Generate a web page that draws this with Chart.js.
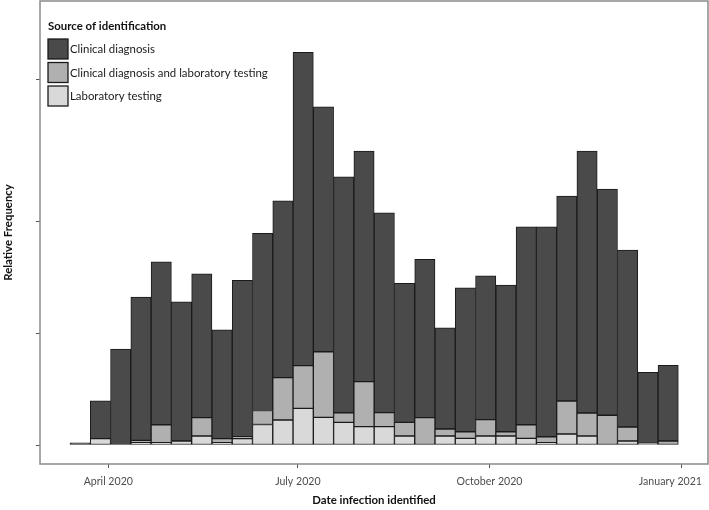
<!DOCTYPE html>
<html><head><meta charset="utf-8">
<script src="https://cdn.jsdelivr.net/npm/chart.js@4"></script>
<style>html,body{margin:0;padding:0;background:#fff;}canvas{display:block;}</style>
</head><body>
<canvas id="c" width="709" height="510"></canvas>
<script>
// ---- DATA ----
// 30 equal-width histogram bins, in days since 2020-01-01
const firstBinStartDay = 72.62;   // ~13 March 2020
const binWidthDays = 9.733;
const seriesNames = ['Laboratory testing', 'Clinical diagnosis and laboratory testing', 'Clinical diagnosis'];
// relative frequency (%) per bin, stacked from bottom
const labTesting = [0, 0.113, 0, 0.041, 0.041, 0.072, 0.161, 0.041, 0.113, 0.367, 0.448, 0.657, 0.496, 0.406, 0.328, 0.328, 0.161, 0, 0.161, 0.120, 0.161, 0.161, 0.120, 0.041, 0.197, 0.161, 0, 0.072, 0.030, 0];
const clinicalAndLab = [0, 0, 0, 0.043, 0.322, 0, 0.328, 0.072, 0.036, 0.251, 0.757, 0.763, 1.174, 0.172, 0.806, 0.251, 0.245, 0.489, 0.125, 0.118, 0.292, 0.077, 0.243, 0.107, 0.591, 0.412, 0.532, 0.251, 0, 0.072];
const clinicalDiagnosis = [0.041, 0.680, 1.718, 2.565, 2.918, 2.493, 2.578, 1.951, 2.800, 3.172, 3.168, 5.610, 4.386, 4.224, 4.130, 3.580, 2.488, 2.835, 1.813, 2.578, 2.578, 2.626, 3.544, 3.759, 3.670, 4.690, 4.051, 3.168, 1.271, 1.355];
const xTickDates = ['2020-04-01', '2020-07-01', '2020-10-01', '2021-01-01'];
const xTickLabels = ['April 2020', 'July 2020', 'October 2020', 'January 2021'];
const yTicks = [0, 2, 4, 6.54];
const legendTitle = 'Source of identification';
const xTitle = 'Date infection identified';
const yTitle = 'Relative Frequency';

// ---- helpers ----
function dayNum(s) {
  const [y, m, d] = s.split('-').map(Number);
  return (Date.UTC(y, m - 1, d) - Date.UTC(2020, 0, 1)) / 86400000;
}
const binCenters = labTesting.map((_, i) => firstBinStartDay + binWidthDays * (i + 0.5));
const toPoints = arr => arr.map((v, i) => ({ x: binCenters[i], y: v }));
const xTickDays = xTickDates.map(dayNum);

Chart.defaults.font.family = 'Lato, "Open Sans", sans-serif';

const fills = ['#d9d9d9', '#b0b0b0', '#4a4a4a'];
const seriesData = [labTesting, clinicalAndLab, clinicalDiagnosis];

const framePlugin = {
  id: 'frame',
  beforeDraw(chart) {
    // keep the last x tick label inside the canvas
    const sx = chart.scales.x;
    const items = sx.getLabelItems(chart.chartArea);
    const last = items[items.length - 1];
    if (last) {
      chart.ctx.save();
      chart.ctx.font = last.font.string;
      const w = chart.ctx.measureText(last.label).width;
      chart.ctx.restore();
      const maxRight = chart.width - 7;
      if (last.options.translation[0] + w / 2 > maxRight) {
        last.options.translation[0] = maxRight - w / 2;
      }
    }
  },
  afterDraw(chart) {
    const { ctx, chartArea: a } = chart;
    ctx.save();
    ctx.strokeStyle = '#8a8a8a';
    ctx.lineWidth = 1.5;
    ctx.strokeRect(a.left, a.top, a.right - a.left, a.bottom - a.top);
    ctx.restore();
  }
};

const insetLegend = {
  id: 'insetLegend',
  afterDraw(chart) {
    const { ctx, chartArea: a } = chart;
    const x0 = a.left + 8;
    ctx.save();
    ctx.textBaseline = 'middle';
    ctx.textAlign = 'left';
    ctx.fillStyle = '#111';
    ctx.font = 'bold 11.4px Lato';
    ctx.fillText(legendTitle, x0, a.top + 25);
    const ds = chart.data.datasets.slice().reverse();
    ds.forEach((d, i) => {
      const y = a.top + 38 + i * 23.5;
      ctx.fillStyle = d.backgroundColor;
      ctx.fillRect(x0, y, 20, 20);
      ctx.strokeStyle = '#1a1a1a';
      ctx.lineWidth = 1.3;
      ctx.strokeRect(x0, y, 20, 20);
      ctx.fillStyle = '#1a1a1a';
      ctx.font = '11.4px Lato';
      ctx.fillText(d.label, x0 + 22, y + 10.5);
    });
    ctx.restore();
  }
};

new Chart(document.getElementById('c'), {
  type: 'bar',
  data: {
    datasets: seriesData.map((arr, k) => ({
      label: seriesNames[k],
      data: toPoints(arr),
      backgroundColor: fills[k],
      borderColor: '#1a1a1a',
      borderWidth: 1,
      borderSkipped: false,
      categoryPercentage: 1.0,
      barPercentage: 1.0
    }))
  },
  options: {
    responsive: false,
    animation: false,
    devicePixelRatio: 1,
    layout: { padding: { top: 1, right: 1, left: 0, bottom: 0 } },
    plugins: { legend: { display: false }, tooltip: { enabled: false } },
    scales: {
      x: {
        type: 'linear',
        stacked: true,
        offset: false,
        min: 58.22,
        max: 378.86,
        afterBuildTicks: s => { s.ticks = xTickDays.map(v => ({ value: v })); },
        afterFit: s => { s.height = 46; s.paddingLeft = 0; s.paddingRight = 0; },
        ticks: {
          autoSkip: false, maxRotation: 0, minRotation: 0,
          padding: 7.5,
          color: '#4d4d4d',
          font: { size: 10.6 },
          callback: (v, i) => xTickLabels[i]
        },
        grid: { display: true, drawOnChartArea: false, drawTicks: true, tickLength: 4, color: '#555', offset: false },
        border: { display: false },
        title: { display: true, text: xTitle, color: '#111', font: { size: 11.4, weight: 'bold' }, padding: { top: 0, bottom: 2.5 } }
      },
      y: {
        type: 'linear',
        stacked: true,
        min: -0.3402,
        max: 7.950,
        afterBuildTicks: s => { s.ticks = yTicks.map(v => ({ value: v })); },
        afterFit: s => { s.width = 40; s.paddingTop = 0; s.paddingBottom = 0; },
        ticks: { display: false },
        grid: { display: true, drawOnChartArea: false, drawTicks: true, tickLength: 4, color: '#555' },
        border: { display: false },
        title: { display: true, text: yTitle, color: '#111', font: { size: 11.4, weight: 'bold' }, padding: { top: 1.5, bottom: 0 } }
      }
    }
  },
  plugins: [framePlugin, insetLegend]
});
</script>
</body></html>
